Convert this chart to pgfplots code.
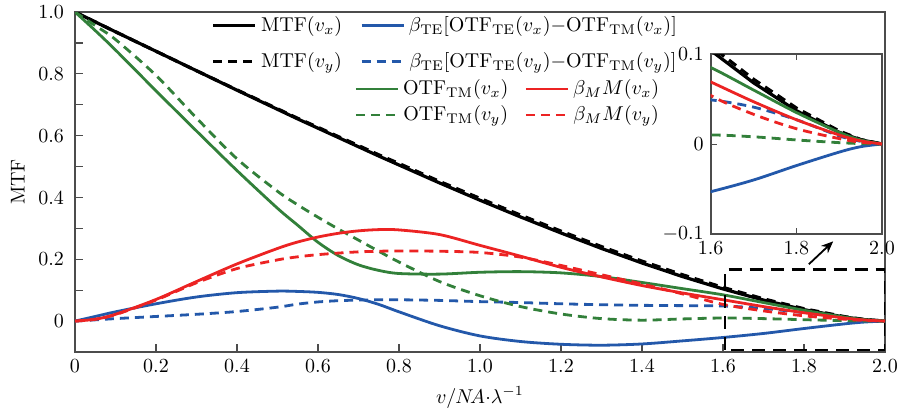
\documentclass[border=0pt]{standalone}
\usepackage{pgfplots}
\pgfplotsset{compat=1.18}
\usepackage{pgfplotstable}
\usetikzlibrary{arrows.meta}

\definecolor{cblue}{RGB}{35,88,170}
\definecolor{cgreen}{RGB}{50,128,58}
\definecolor{cred}{RGB}{236,35,35}

% x, MTF(vx), MTF(vy), beta_TE[..](vx), beta_TE[..](vy), OTF_TM(vx), OTF_TM(vy), beta_M M(vx), beta_M M(vy)
\pgfplotstableread{
x    mtfx   mtfy   tex    tey    tmx    tmy    mx     my
0.00 1.000  1.000  0.000  0.000  1.000  1.000  0.000  0.000
0.05 0.968  0.968  0.015  0.004  0.940  0.956  0.006  0.006
0.10 0.936  0.936  0.030  0.008  0.877  0.911  0.022  0.021
0.20 0.873  0.873  0.056  0.015  0.745  0.795  0.070  0.068
0.30 0.810  0.810  0.078  0.022  0.615  0.657  0.128  0.124
0.40 0.747  0.748  0.092  0.031  0.487  0.525  0.185  0.170
0.50 0.685  0.687  0.097  0.045  0.365  0.420  0.235  0.198
0.55 0.654  0.656  0.096  0.055  0.310  0.376  0.256  0.208
0.60 0.624  0.627  0.093  0.062  0.255  0.336  0.272  0.215
0.65 0.594  0.597  0.086  0.066  0.212  0.298  0.284  0.220
0.70 0.564  0.568  0.073  0.068  0.182  0.262  0.292  0.224
0.75 0.534  0.538  0.054  0.069  0.164  0.226  0.296  0.226
0.80 0.505  0.510  0.030  0.069  0.154  0.191  0.295  0.227
0.90 0.447  0.452 -0.015  0.067  0.152  0.128  0.280  0.226
1.00 0.391  0.397 -0.048  0.063  0.158  0.082  0.245  0.222
1.10 0.337  0.343 -0.066  0.060  0.160  0.047  0.210  0.207
1.20 0.285  0.291 -0.075  0.056  0.156  0.023  0.174  0.180
1.30 0.235  0.241 -0.078  0.053  0.144  0.008  0.143  0.150
1.40 0.188  0.194 -0.074  0.051  0.125  0.003  0.115  0.120
1.50 0.144  0.150 -0.064  0.050  0.105  0.007  0.091  0.088
1.60 0.104  0.109 -0.053  0.049  0.085  0.010  0.069  0.054
1.70 0.068  0.072 -0.040  0.041  0.060  0.008  0.047  0.033
1.80 0.037  0.040 -0.024  0.027  0.035  0.0045 0.027  0.017
1.90 0.013  0.0145 -0.009 0.009  0.013  0.0015 0.010  0.006
1.95 0.0047 0.005 -0.003  0.003  0.0045 0.0005 0.0035 0.002
2.00 0.000  0.000  0.000  0.000  0.000  0.000  0.000  0.000
}\mtf

\pgfplotsset{
  solidln/.style={line width=1.4pt},
  dashln/.style={line width=1.4pt, dash pattern=on 4.5pt off 3pt},
}

\begin{document}
\begin{tikzpicture}
\useasboundingbox (-37.5pt,-28.5pt) rectangle (412.5pt,176pt);

\begin{axis}[name=main, scale only axis, width=405pt, height=170pt,
  xmin=0, xmax=2, ymin=-0.1, ymax=1,
  xtick={0,0.2,0.4,0.6,0.8,1,1.2,1.4,1.6,1.8,2},
  xticklabels={0,0.2,0.4,0.6,0.8,1.0,1.2,1.4,1.6,1.8,2.0},
  ytick={0,0.1,0.2,0.3,0.4,0.5,0.6,0.7,0.8,0.9,1},
  yticklabels={0,,0.2,,0.4,,0.6,,0.8,,1.0},
  tick pos=left, tick align=inside, major tick length=4pt,
  tick style={black!70, line width=0.6pt},
  axis line style={black!70, line width=1pt},
  yticklabel style={xshift=-2pt},
  xlabel={$v/N\!A{\cdot}\lambda^{-1}$}, ylabel={MTF},
  legend columns=2,
  legend style={at={(0.161,1.012)}, anchor=north west, draw=none, fill=none,
    row sep=5pt, /tikz/every even column/.append style={column sep=7pt}},
  legend image code/.code={\draw[#1] (0pt,0pt) -- (21pt,0pt);},
]
\addplot[black, line width=1.6pt] table[x=x,y=mtfx]{\mtf};
\addlegendentry{$\mathrm{MTF}(v_x)$}
\addplot[cblue, solidln, smooth] table[x=x,y=tex]{\mtf};
\addlegendentry{$\beta_{\mathrm{TE}}[\mathrm{OTF}_{\mathrm{TE}}(v_x){-}\mathrm{OTF}_{\mathrm{TM}}(v_x)]$}
\addplot[black, line width=1.6pt, dash pattern=on 4.5pt off 3pt] table[x=x,y=mtfy]{\mtf};
\addlegendentry{$\mathrm{MTF}(v_y)$}
\addplot[cblue, dashln, smooth] table[x=x,y=tey]{\mtf};
\addlegendentry{$\beta_{\mathrm{TE}}[\mathrm{OTF}_{\mathrm{TE}}(v_y){-}\mathrm{OTF}_{\mathrm{TM}}(v_y)]$}
\addplot[cgreen, solidln, smooth, forget plot] table[x=x,y=tmx]{\mtf};
\addplot[cgreen, dashln, smooth, forget plot] table[x=x,y=tmy]{\mtf};
\addplot[cred, solidln, smooth, forget plot] table[x=x,y=mx]{\mtf};
\addplot[cred, dashln, smooth, forget plot] table[x=x,y=my]{\mtf};

\draw[black, line width=1.1pt, dash pattern=on 6.5pt off 4pt]
  (axis cs:1.605,-0.093) rectangle (axis cs:2.0,0.167);
\draw[black, line width=0.9pt, -{Stealth[length=6pt,width=5pt]}]
  (axis cs:1.812,0.184) -- (axis cs:1.872,0.258);
\end{axis}

% second legend block (green / red)
\begin{axis}[scale only axis, width=405pt, height=170pt, hide axis,
  xmin=0, xmax=1, ymin=0, ymax=1,
  legend columns=2,
  legend style={at={(0.337,0.825)}, anchor=north west, draw=none, fill=none,
    row sep=0pt, /tikz/every even column/.append style={column sep=6pt}},
  legend image code/.code={\draw[#1] (0pt,0pt) -- (21pt,0pt);},
]
\addlegendimage{cgreen, solidln}
\addlegendentry{$\mathrm{OTF}_{\mathrm{TM}}(v_x)$}
\addlegendimage{cred, solidln}
\addlegendentry{$\beta_M M(v_x)$}
\addlegendimage{cgreen, dashln}
\addlegendentry{$\mathrm{OTF}_{\mathrm{TM}}(v_y)$}
\addlegendimage{cred, dashln}
\addlegendentry{$\beta_M M(v_y)$}
\end{axis}

% inset
\begin{axis}[at={(317.85pt,59pt)}, anchor=south west, scale only axis,
  width=85.65pt, height=90pt,
  xmin=1.6, xmax=2, ymin=-0.1, ymax=0.1,
  xtick={1.6,1.8,2.0}, xticklabels={1.6,1.8,2.0},
  ytick={-0.1,0,0.1}, yticklabels={$-0.1$,0,0.1},
  axis background/.style={fill=white},
  tick align=inside, major tick length=3pt,
  tick style={black!70, line width=0.5pt},
  axis line style={black!70, line width=0.8pt},
]
\addplot[black, line width=1.6pt] table[x=x,y=mtfx]{\mtf};
\addplot[black, line width=1.6pt, dash pattern=on 4.5pt off 3pt] table[x=x,y=mtfy]{\mtf};
\addplot[cblue, solidln, smooth] table[x=x,y=tex]{\mtf};
\addplot[cblue, dashln, smooth] table[x=x,y=tey]{\mtf};
\addplot[cgreen, solidln, smooth] table[x=x,y=tmx]{\mtf};
\addplot[cgreen, dashln, smooth] table[x=x,y=tmy]{\mtf};
\addplot[cred, solidln, smooth] table[x=x,y=mx]{\mtf};
\addplot[cred, dashln, smooth] table[x=x,y=my]{\mtf};
\end{axis}
\end{tikzpicture}
\end{document}
